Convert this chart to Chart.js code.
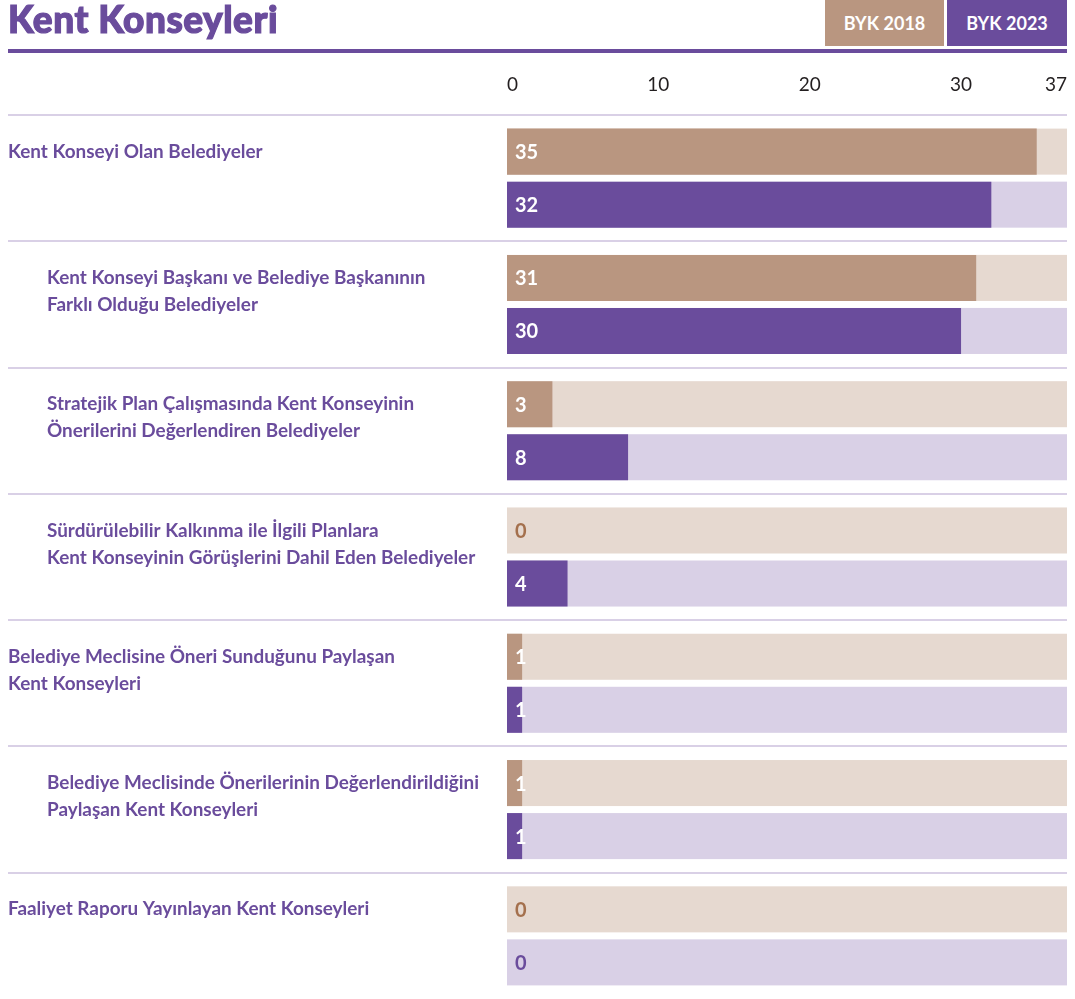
<!DOCTYPE html>
<html lang="tr">
<head>
<meta charset="utf-8">
<title>Kent Konseyleri</title>
<script src="https://cdn.jsdelivr.net/npm/chart.js@4.4.1/dist/chart.umd.min.js"></script>
<style>
  html, body { margin:0; padding:0; background:#fff; }
  body { width:1075px; height:999px; position:relative; overflow:hidden; font-family: Lato, 'Open Sans', sans-serif; }
  #wrap { position:absolute; left:0; top:0; width:1075px; height:999px; }
  #title { position:absolute; left:8px; top:-4px; font-size:37px; font-weight:900; color:#6a4c9c; letter-spacing:0.5px; -webkit-text-stroke:1.2px #6a4c9c; }
  #rule { position:absolute; left:8px; top:49px; width:1059px; height:4px; background:#6a4c9c; }
  .key { position:absolute; top:0; height:46px; width:120px; color:#fff; font-weight:700; font-size:18px; line-height:46px; text-align:center; }
</style>
</head>
<body>
<div id="wrap"><canvas id="chart"></canvas></div>
<div id="title">Kent Konseyleri</div>
<div id="rule"></div>
<div class="key" style="left:825px; width:119px; background:#b99680;">BYK 2018</div>
<div class="key" style="left:947px; background:#6a4c9c;">BYK 2023</div>
<script>
// Row labels (multi-line), top to bottom
const categories = [
  ['Kent Konseyi Olan Belediyeler'],
  ['Kent Konseyi Başkanı ve Belediye Başkanının', 'Farklı Olduğu Belediyeler'],
  ['Stratejik Plan Çalışmasında Kent Konseyinin', 'Önerilerini Değerlendiren Belediyeler'],
  ['Sürdürülebilir Kalkınma ile İlgili Planlara', 'Kent Konseyinin Görüşlerini Dahil Eden Belediyeler'],
  ['Belediye Meclisine Öneri Sunduğunu Paylaşan', 'Kent Konseyleri'],
  ['Belediye Meclisinde Önerilerinin Değerlendirildiğini', 'Paylaşan Kent Konseyleri'],
  ['Faaliyet Raporu Yayınlayan Kent Konseyleri']
];
// which rows are sub-items of the row above (drawn indented)
const subItem = [false, true, true, true, false, true, false];

const seriesNames = ['BYK 2018', 'BYK 2023'];
const byk2018 = [35, 31, 3, 0, 1, 1, 0];
const byk2023 = [32, 30, 8, 4, 1, 1, 0];

const axisMax = 37;
const tickValues = [0, 10, 20, 30, 37];

const barColors = ['#b99680', '#6a4c9c'];
const trackColors = ['#e6d9d0', '#d9d0e6'];
const zeroColors = ['#a4704d', '#6a4c9c'];
const purple = '#6a4c9c';
const FONT = 'Lato, "Open Sans", sans-serif';

// light tracks behind bars, separators, labels
const decor = {
  id: 'decor',
  beforeDatasetsDraw(chart) {
    const { ctx, scales: { x, y } } = chart;
    ctx.save();
    ctx.strokeStyle = '#d9d0e6';
    ctx.lineWidth = 2;
    for (let i = 0; i < categories.length; i++) {
      const yy = Math.round(y.getPixelForValue(i - 0.5));
      ctx.beginPath();
      ctx.moveTo(8, yy);
      ctx.lineTo(x.right, yy);
      ctx.stroke();
    }
    const x0 = x.getPixelForValue(0), x1 = x.getPixelForValue(axisMax);
    chart.data.datasets.forEach((ds, di) => {
      chart.getDatasetMeta(di).data.forEach(bar => {
        ctx.fillStyle = trackColors[di];
        ctx.fillRect(x0, bar.y - bar.height / 2, x1 - x0, bar.height);
      });
    });
    ctx.restore();
  },
  afterDatasetsDraw(chart) {
    const { ctx, scales: { x } } = chart;
    ctx.save();
    ctx.textBaseline = 'middle';
    ctx.textAlign = 'left';
    // values inside the bars
    ctx.font = 'bold 20px ' + FONT;
    chart.data.datasets.forEach((ds, di) => {
      chart.getDatasetMeta(di).data.forEach((bar, i) => {
        const v = ds.data[i];
        ctx.fillStyle = v > 0 ? '#fff' : zeroColors[di];
        ctx.fillText(String(v), x.getPixelForValue(0) + 8, bar.y + 1);
      });
    });
    // row labels on the left, first line level with the first bar
    ctx.font = 'bold 18.9px ' + FONT;
    ctx.fillStyle = purple;
    const first = chart.getDatasetMeta(0).data;
    categories.forEach((lines, i) => {
      const lx = subItem[i] ? 47 : 8;
      lines.forEach((t, k) => ctx.fillText(t, lx, first[i].y + k * 27));
    });
    ctx.restore();
  }
};

new Chart(document.getElementById('chart'), {
  type: 'bar',
  data: {
    labels: categories.map(l => l.join(' ')),
    datasets: [
      { label: seriesNames[0], data: byk2018, backgroundColor: barColors[0] },
      { label: seriesNames[1], data: byk2023, backgroundColor: barColors[1] }
    ]
  },
  options: {
    indexAxis: 'y',
    responsive: true,
    maintainAspectRatio: false,
    animation: false,
    categoryPercentage: 0.84,
    barPercentage: 0.868,
    layout: { padding: { left: 507, right: 8, top: 0, bottom: 0 } },
    plugins: { legend: { display: false }, tooltip: { enabled: false } },
    scales: {
      x: {
        position: 'top',
        min: 0,
        max: axisMax,
        grid: { display: false, drawTicks: false },
        border: { display: false },
        afterBuildTicks: s => { s.ticks = tickValues.map(v => ({ value: v })); },
        afterFit: s => { s.height = 115; s.paddingLeft = 0; s.paddingRight = 0; },
        ticks: {
          align: 'inner',
          autoSkip: false,
          maxRotation: 0,
          padding: 19,
          color: '#231f20',
          font: { family: FONT, size: 19 }
        }
      },
      y: { display: false }
    }
  },
  plugins: [decor]
});
</script>
</body>
</html>
